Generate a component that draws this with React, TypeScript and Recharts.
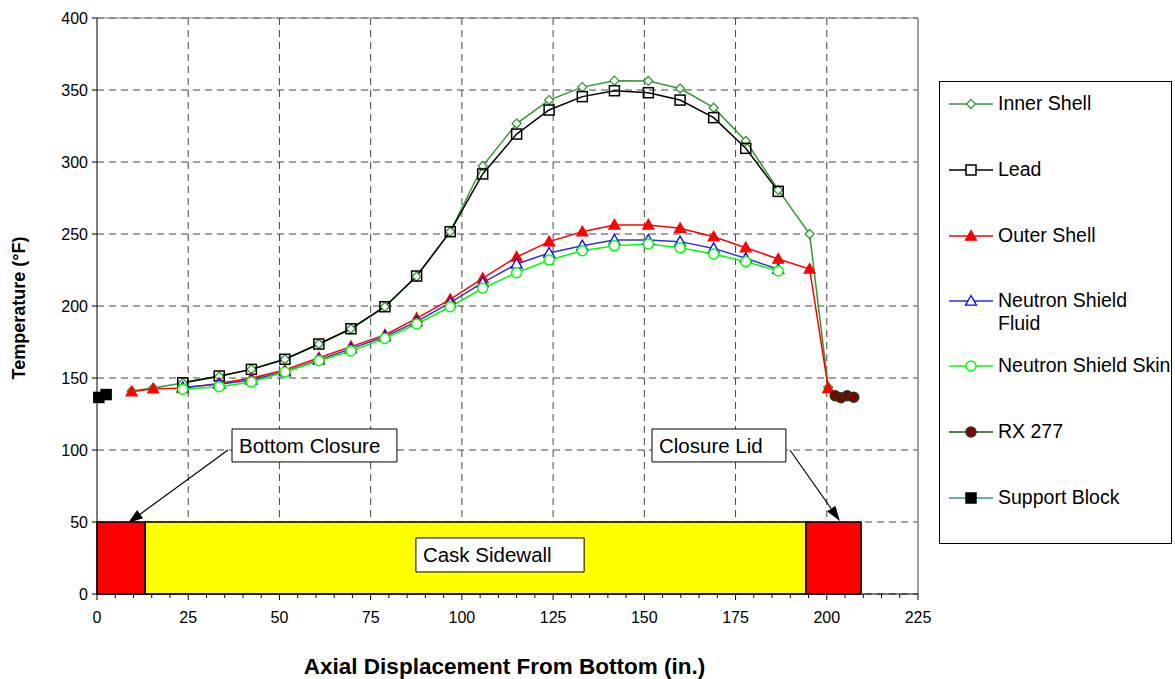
import React from "react";
import { LineChart, Line, XAxis, YAxis, CartesianGrid, ReferenceLine, ReferenceArea, Legend, Label } from "recharts";

// axial stations (in.) used by the shell series
const axial = [9.5, 15.4, 23.5, 33.5, 42.3, 51.5, 60.8, 69.6, 78.9, 87.6, 96.8, 105.7, 115.0, 123.9, 133.0, 141.8, 151.1, 159.8, 169.0, 177.8, 186.7, 195.3, 200.4];
// stations for lead / neutron shield (23.5 .. 186.7)
const shieldAxial = axial.slice(2, 21);

const innerShell = [141, 143, 146.5, 151, 156, 163, 173.6, 184.2, 199.5, 220.5, 251.6, 297.2, 326.7, 343, 352, 356.5, 356.3, 351, 337.7, 314.6, 280.6, 250, 143.5];
const lead = [146.7, 151.4, 156, 163, 173.6, 184.2, 199.5, 220.8, 251.6, 291.7, 319.4, 336.1, 345.4, 349.5, 348.1, 343, 330.8, 309.5, 279.6];
const outerShell = [140.5, 142.5, 142.8, 146.3, 149.8, 155.6, 164.1, 171.8, 179.9, 191.4, 204.6, 219.2, 234, 244.7, 251.6, 256.3, 256.3, 254, 248.1, 240.5, 232.6, 225.7, 142.8];
const shieldFluid = [143.5, 145.6, 148.6, 154.4, 162.5, 170.4, 178.7, 189.1, 202.3, 216.2, 229.2, 236.8, 241.9, 245.8, 245.8, 244.7, 240, 233.1, 225.5];
const shieldSkin = [142.2, 144.0, 147.2, 154.2, 162, 168.8, 177.5, 187.5, 199.5, 212.3, 223.1, 231.9, 238.4, 241.9, 243.1, 240.5, 236.1, 230.8, 224.3];

const rxAxial = [202.3, 203.9, 205.6, 207.4];
const rxTemp = [137.7, 136.3, 137.7, 136.6];

const supportAxial = [0.5, 2.5];
const supportTemp = [136.5, 138.5];

// cask components drawn along the bottom (axial extents, in.)
const components = [
  { name: "Bottom Closure", from: 0, to: 13.2, color: "#ff0000" },
  { name: "Cask Sidewall", from: 13.2, to: 194.3, color: "#ffff00" },
  { name: "Closure Lid", from: 194.3, to: 209.4, color: "#ff0000" },
];

const X_DOMAIN: [number, number] = [0, 225];
const xTicks = Array.from({ length: 46 }, (_, i) => i * 5);
const yTicks = [0, 50, 100, 150, 200, 250, 300, 350, 400];
const xGrid = [25, 50, 75, 100, 125, 150, 175, 200];

const toPoints = (xs: number[], ys: number[]) => xs.map((x, i) => ({ x, y: ys[i] }));

const FONT = '"Liberation Sans", Arial, sans-serif';

type MarkerKind = "diamond" | "square" | "triangle" | "circle";

const Marker = ({ kind, cx, cy, stroke, fill }: { kind: MarkerKind; cx: number; cy: number; stroke: string; fill: string }) => {
  if (kind === "diamond") {
    const r = 4.5;
    return <polygon points={`${cx},${cy - r} ${cx + r},${cy} ${cx},${cy + r} ${cx - r},${cy}`} stroke={stroke} fill={fill} strokeWidth={1.3} />;
  }
  if (kind === "square") {
    const s = 5;
    return <rect x={cx - s} y={cy - s} width={s * 2} height={s * 2} stroke={stroke} fill={fill} strokeWidth={1.5} />;
  }
  if (kind === "triangle") {
    const r = 5.5;
    return <polygon points={`${cx},${cy - r} ${cx + r},${cy + r * 0.75} ${cx - r},${cy + r * 0.75}`} stroke={stroke} fill={fill} strokeWidth={1.3} />;
  }
  return <circle cx={cx} cy={cy} r={5} stroke={stroke} fill={fill} strokeWidth={1.5} />;
};

const series = [
  { name: "Inner Shell", data: toPoints(axial, innerShell), line: "#339933", kind: "diamond" as MarkerKind, mStroke: "#339933", mFill: "#ffffff" },
  { name: "Lead", data: toPoints(shieldAxial, lead), line: "#000000", kind: "square" as MarkerKind, mStroke: "#000000", mFill: "none" },
  { name: "Outer Shell", data: toPoints(axial, outerShell), line: "#ff0000", kind: "triangle" as MarkerKind, mStroke: "#ff0000", mFill: "#ff0000" },
  { name: "Neutron Shield Fluid", data: toPoints(shieldAxial, shieldFluid), line: "#3333cc", kind: "triangle" as MarkerKind, mStroke: "#0000ff", mFill: "#ffffff" },
  { name: "Neutron Shield Skin", data: toPoints(shieldAxial, shieldSkin), line: "#00ff00", kind: "circle" as MarkerKind, mStroke: "#00ff00", mFill: "#ffffff" },
  { name: "RX 277", data: toPoints(rxAxial, rxTemp), line: "#1f4f1f", kind: "circle" as MarkerKind, mStroke: "#1f3f1f", mFill: "#800000" },
  { name: "Support Block", data: toPoints(supportAxial, supportTemp), line: "#339999", kind: "square" as MarkerKind, mStroke: "#000000", mFill: "#000000" },
];

// vertical grid only at the labelled ticks (the axis also carries minor ticks every 5)
const gridX = (args: any) => {
  const sc = args && args.xAxis && args.xAxis.scale;
  const off = args && args.offset;
  return xGrid.map((v) => {
    if (typeof sc === "function") return sc(v);
    if (sc && typeof sc.map === "function") {
      const p = sc.map(v);
      if (typeof p === "number") return p;
    }
    return off.left + ((v - X_DOMAIN[0]) / (X_DOMAIN[1] - X_DOMAIN[0])) * off.width;
  });
};

const XTick = (props: any) => {
  const { x, y, payload } = props;
  const major = payload.value % 25 === 0;
  return (
    <g>
      <line x1={x} y1={y} x2={x} y2={y + (major ? 6 : 4)} stroke="#000" />
      {major && (
        <text x={x} y={y + 29} textAnchor="middle" fontSize={16} fontFamily={FONT} fill="#000">
          {payload.value}
        </text>
      )}
    </g>
  );
};

const Arrow = (props: any) => {
  const { x1, y1, x2, y2 } = props;
  const ang = Math.atan2(y2 - y1, x2 - x1);
  const len = 15;
  const half = 5;
  const bx = x2 - len * Math.cos(ang);
  const by = y2 - len * Math.sin(ang);
  const px = -Math.sin(ang) * half;
  const py = Math.cos(ang) * half;
  return (
    <g>
      <line x1={x1} y1={y1} x2={bx} y2={by} stroke="#000" strokeWidth={1.2} />
      <polygon points={`${x2},${y2} ${bx + px},${by + py} ${bx - px},${by - py}`} fill="#000" />
    </g>
  );
};

// legend drawn in series order (Recharts sorts its payload by name)
const LegendBox = (props: any) => {
  const shown = new Set((props.payload || []).map((p: any) => p.value));
  const rows = [22, 88, 154, 219, 284, 350, 416];
  return (
    <div style={{ position: "relative", width: 233, height: 463, border: "1px solid #000", boxSizing: "border-box", background: "#fff", fontFamily: FONT, fontSize: 19.5, color: "#000" }}>
      {series.filter((s) => shown.has(s.name)).map((s, i) => {
        const label = s.name === "Neutron Shield Fluid" ? ["Neutron Shield", "Fluid"] : [s.name];
        return (
          <div key={s.name} style={{ position: "absolute", left: 8, top: rows[i] - 12, display: "flex", alignItems: "flex-start" }}>
            <svg width={46} height={24} style={{ flexShrink: 0 }}>
              <line x1={1} y1={12} x2={45} y2={12} stroke={s.line} strokeWidth={1.5} />
              <Marker kind={s.kind} cx={23} cy={12} stroke={s.mStroke} fill={s.mFill === "none" ? "#fff" : s.mFill} />
            </svg>
            <div style={{ marginLeft: 4, lineHeight: "23px", whiteSpace: "nowrap" }}>
              {label.map((l) => (
                <div key={l}>{l}</div>
              ))}
            </div>
          </div>
        );
      })}
    </div>
  );
};

const YTitle = (props: any) => {
  const { viewBox } = props;
  const cx = viewBox.x - 18;
  const cy = viewBox.y + viewBox.height / 2 + 2;
  return (
    <text x={cx} y={cy} transform={`rotate(-90 ${cx} ${cy})`} textAnchor="middle" dominantBaseline="central" fontSize={18} fontWeight="bold" fontFamily={FONT} fill="#000">
      Temperature (°F)
    </text>
  );
};

const XTitle = (props: any) => {
  const { viewBox } = props;
  return (
    <text x={viewBox.x + viewBox.width / 2 - 3} y={viewBox.y + 80} textAnchor="middle" fontSize={22.5} fontWeight="bold" fontFamily={FONT} fill="#000">
      Axial Displacement From Bottom (in.)
    </text>
  );
};

const boxLabel = (value: string) => ({ value, position: "insideLeft" as const, offset: 7, fontSize: 20.5, fontFamily: FONT, fill: "#000" });

export default function App() {
  return (
    <div style={{ position: "absolute", left: 0, top: 0, width: 1175, height: 679, background: "#fff" }}>
      <LineChart width={1175} height={679} margin={{ top: 18, right: 257, left: 37, bottom: 45 }}>
        <CartesianGrid stroke="#444" strokeDasharray="7 5" verticalCoordinatesGenerator={gridX} />
        <XAxis
          type="number"
          dataKey="x"
          domain={X_DOMAIN}
          ticks={xTicks}
          interval={0}
          tickSize={0}
          tickMargin={0}
          tick={<XTick />}
          axisLine={{ stroke: "#000" }}
          height={40}
          allowDuplicatedCategory={false}
        >
          <Label content={<XTitle />} />
        </XAxis>
        <YAxis
          type="number"
          domain={[0, 400]}
          ticks={yTicks}
          interval={0}
          width={60}
          tickSize={5}
          tickMargin={4}
          axisLine={{ stroke: "#000" }}
          tickLine={{ stroke: "#000" }}
          tick={{ fontSize: 16, fontFamily: FONT, fill: "#000" }}
        >
          <Label content={<YTitle />} />
        </YAxis>

        <ReferenceLine y={400} stroke="#808080" />
        <ReferenceLine x={225} stroke="#808080" strokeWidth={1.5} />

        {components.map((c) => (
          <ReferenceArea key={c.name} x1={c.from} x2={c.to} y1={0} y2={50} fill={c.color} fillOpacity={1} stroke="#000" strokeWidth={1.5} />
        ))}

        {series.map((s) => (
          <Line
            key={s.name}
            name={s.name}
            data={s.data}
            dataKey="y"
            type="linear"
            stroke={s.line}
            strokeWidth={1.5}
            isAnimationActive={false}
            dot={(p: any) => <Marker key={`${s.name}-${p.index}`} kind={s.kind} cx={p.cx} cy={p.cy} stroke={s.mStroke} fill={s.mFill} />}
            activeDot={false}
            legendType="line"
          />
        ))}

        <ReferenceArea x1={87.4} x2={133.5} y1={15.3} y2={38.9} fill="#fff" fillOpacity={1} stroke="#000" strokeWidth={1} label={boxLabel("Cask Sidewall")} />
        <ReferenceArea x1={37} x2={82.2} y1={91.7} y2={114.6} fill="#fff" fillOpacity={1} stroke="#000" strokeWidth={1} label={boxLabel("Bottom Closure")} />
        <ReferenceArea x1={152.1} x2={188.8} y1={91.7} y2={114.6} fill="#fff" fillOpacity={1} stroke="#000" strokeWidth={1} label={boxLabel("Closure Lid")} />
        <ReferenceLine segment={[{ x: 35.9, y: 100 }, { x: 8.5, y: 49.3 }]} shape={<Arrow />} />
        <ReferenceLine segment={[{ x: 189.9, y: 100 }, { x: 203.6, y: 50.7 }]} shape={<Arrow />} />

        <Legend
          layout="vertical"
          align="center"
          verticalAlign="middle"
          wrapperStyle={{ left: 939, top: 81, width: 233, height: 463 }}
          content={<LegendBox />}
        />
      </LineChart>
    </div>
  );
}
